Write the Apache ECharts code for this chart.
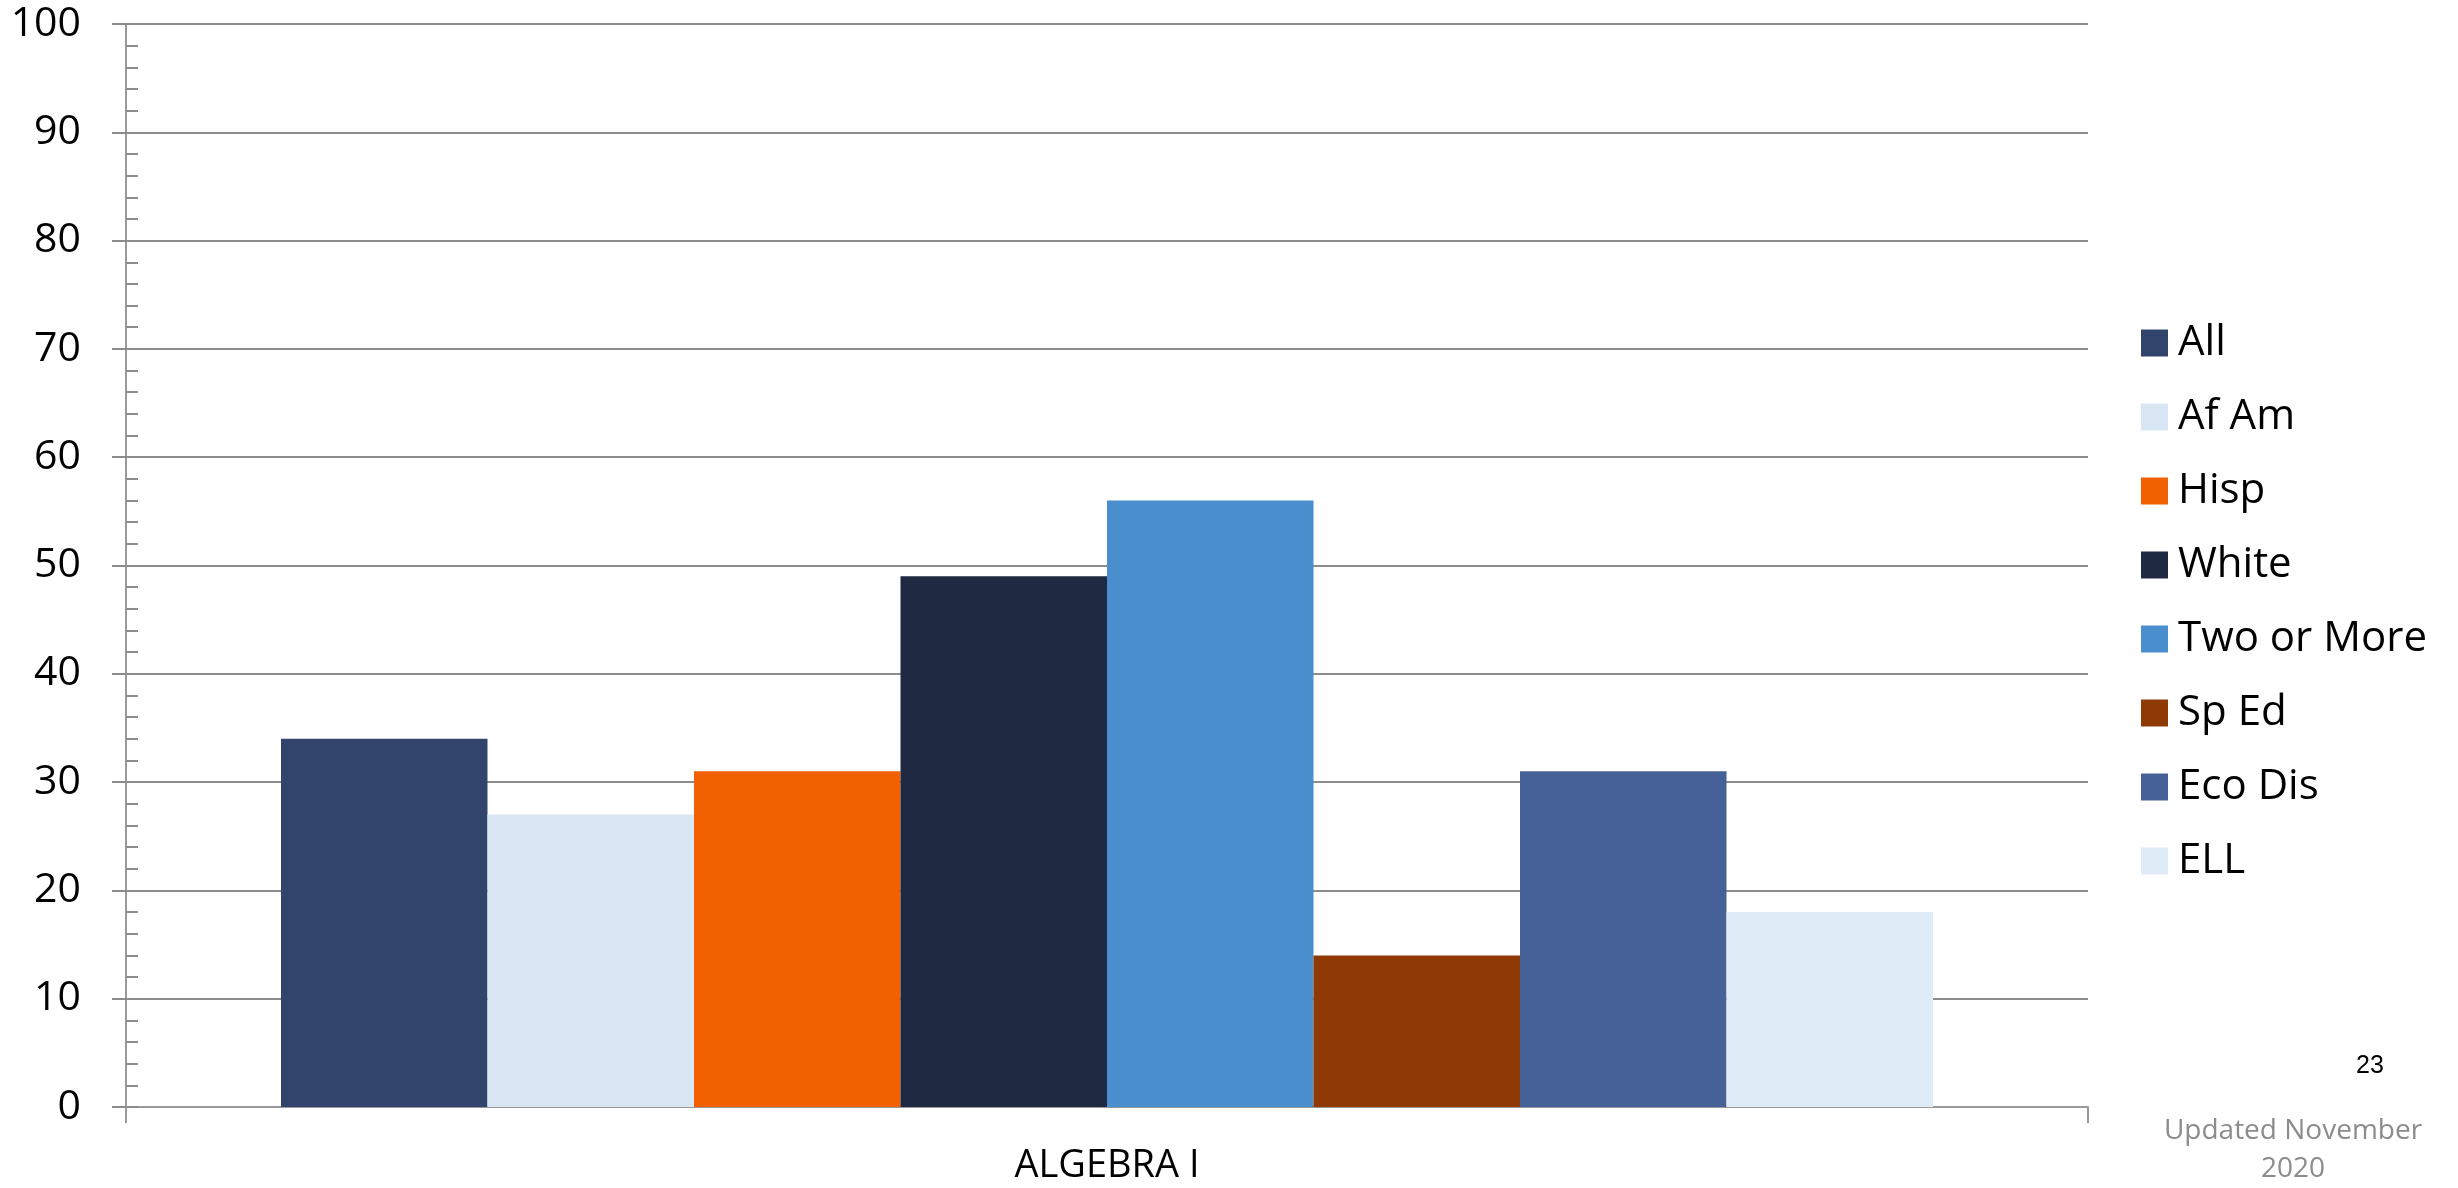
<!DOCTYPE html>
<html>
<head>
<meta charset="utf-8">
<script src="https://cdn.jsdelivr.net/npm/echarts@6/dist/echarts.min.js"></script>
<style>
html,body{margin:0;padding:0;background:#fff;}
#chart{width:2458px;height:1188px;}
</style>
</head>
<body>
<div id="chart"></div>
<script>
const categories = ['ALGEBRA I'];
const seriesNames = ['All', 'Af Am', 'Hisp', 'White', 'Two or More', 'Sp Ed', 'Eco Dis', 'ELL'];
const seriesValues = [34, 27, 31, 49, 56, 14, 31, 18];
const seriesColors = ['#32446B', '#D9E7F4', '#F16102', '#1F2941', '#4A8ECE', '#8F3A04', '#466098', '#DFEBF6'];
const yTicks = [0, 10, 20, 30, 40, 50, 60, 70, 80, 90, 100];
const pageNumber = '23';
const footnoteLines = ['Updated November', '2020'];

const FONT = '"Open Sans", sans-serif';
const chart = echarts.init(document.getElementById('chart'));

const series = seriesNames.map((name, i) => ({
  name: name,
  type: 'bar',
  yAxisIndex: 0,
  data: [seriesValues[i]],
  itemStyle: { color: seriesColors[i] },
  barGap: '0%',
  barCategoryGap: '15.8%',
  animation: false
}));

chart.setOption({
  animation: false,
  grid: { left: 126, right: 370, top: 24, bottom: 81, containLabel: false },
  legend: {
    orient: 'vertical',
    left: 2136,
    top: 316,
    icon: 'rect',
    itemWidth: 27,
    itemHeight: 27,
    itemGap: 30,
    textStyle: { fontFamily: FONT, fontSize: 42, color: '#000', lineHeight: 44, padding: [0, 0, 0, 5] },
    data: seriesNames
  },
  xAxis: {
    type: 'category',
    data: categories,
    axisLine: { show: true, lineStyle: { color: '#999', width: 2 } },
    axisTick: { show: true, length: 16, alignWithLabel: false, lineStyle: { color: '#999', width: 2 } },
    axisLabel: { fontFamily: FONT, fontSize: 38, color: '#000', margin: 40 },
    splitLine: { show: false }
  },
  yAxis: [
    {
      type: 'value',
      min: yTicks[0],
      max: yTicks[yTicks.length - 1],
      interval: 10,
      position: 'left',
      axisLine: { show: true, lineStyle: { color: '#999', width: 2 } },
      axisTick: { show: true, inside: false, length: 14, lineStyle: { color: '#8c8c8c', width: 2 } },
      axisLabel: { fontFamily: FONT, fontSize: 41, color: '#000', margin: 45 },
      splitLine: { show: true, lineStyle: { color: '#8c8c8c', width: 2 } }
    },
    {
      type: 'value',
      min: yTicks[0],
      max: yTicks[yTicks.length - 1],
      interval: 10,
      position: 'left',
      offset: 0,
      axisLine: { show: true, lineStyle: { color: '#999', width: 2 } },
      axisTick: { show: true, inside: true, length: 12, lineStyle: { color: '#8c8c8c', width: 2 } },
      minorTick: { show: true, splitNumber: 5, length: 12, lineStyle: { color: '#8c8c8c', width: 2 } },
      axisLabel: { show: false },
      splitLine: { show: false }
    }
  ],
  graphic: [
    {
      type: 'text',
      x: 2370,
      y: 1066,
      style: { text: pageNumber, font: '25px "Liberation Sans", Arial, sans-serif', fill: '#000', align: 'center', verticalAlign: 'middle' }
    },
    {
      type: 'text',
      x: 2293,
      y: 1131,
      style: { text: footnoteLines[0], font: '28px "Open Sans", sans-serif', fill: '#8c8c8c', align: 'center', verticalAlign: 'middle' }
    },
    {
      type: 'text',
      x: 2293,
      y: 1169,
      style: { text: footnoteLines[1], font: '28px "Open Sans", sans-serif', fill: '#8c8c8c', align: 'center', verticalAlign: 'middle' }
    }
  ],
  series: series
});
</script>
</body>
</html>
